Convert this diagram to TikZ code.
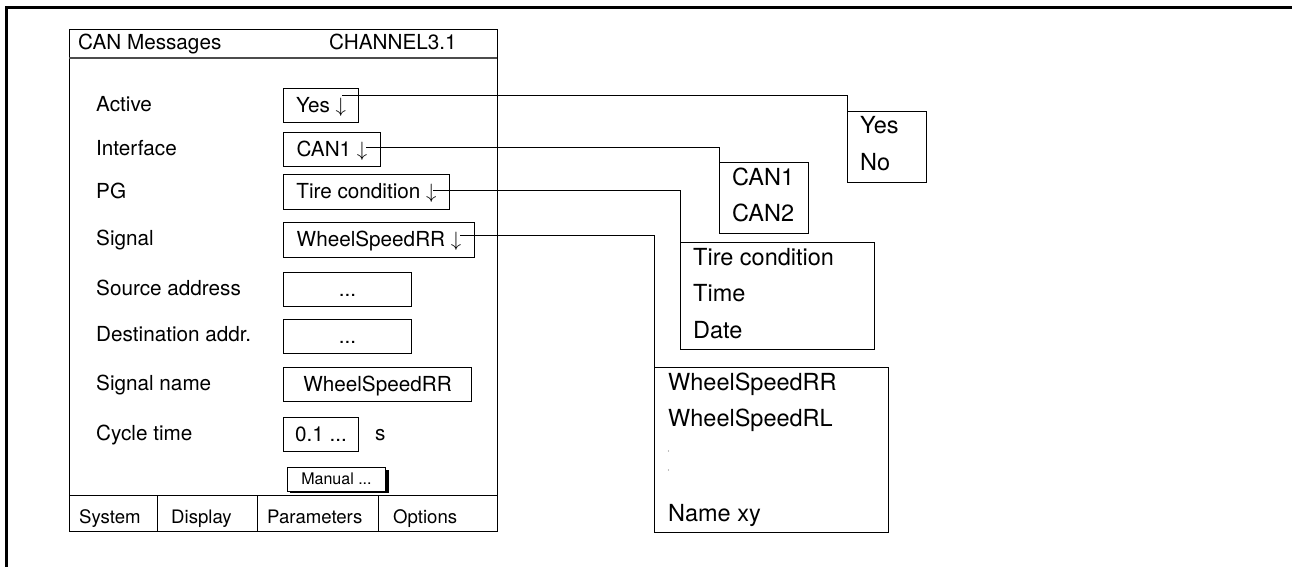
\documentclass[tikz,border=0pt]{standalone}
\usepackage{fontspec}
\setmainfont{TeX Gyre Heros}

\begin{document}
\begin{tikzpicture}[x=1pt,y=-1pt,
   every node/.style={font=\fontsize{20.7}{25}\selectfont},
   lbl/.style={anchor=base west,inner sep=0pt},
   item/.style={anchor=base west,inner sep=0pt,font=\fontsize{23.5}{28}\selectfont},
   tab/.style={anchor=base west,inner sep=0pt,font=\fontsize{18.6}{22}\selectfont},
   field/.style={draw,line width=1pt,inner sep=0pt,anchor=north west,
                 text height=17pt,text depth=3.5pt},
   listbox/.style={draw,line width=1pt,inner sep=0pt,anchor=north west},
   wire/.style={line width=0.8pt}]
   \useasboundingbox (0,0) rectangle (1292,567) ;
   % frame
   \draw[line width=3pt] (1292,8) -- (6,8) -- (6,567) ;
   % window
   \draw[line width=1pt] (69,30) rectangle (497,531) ;
   \draw[line width=1.4pt,gray!60!black] (69,58) -- (497,58) ;
   \node[lbl] (title) at (78,50) {CAN Messages} ;
   \node[lbl] (chan) at (329,50) {CHANNEL3.1} ;
   % parameter names
   \node[lbl] (lactive) at (96,111.7) {Active} ;
   \node[lbl] (linterface) at (96,155.3) {Interface} ;
   \node[lbl] (lpg) at (96,198.3) {PG} ;
   \node[lbl] (lsignal) at (96,245.7) {Signal} ;
   \node[lbl] (lsource) at (96,295) {Source address} ;
   \node[lbl] (ldest) at (96,341.7) {Destination addr.} ;
   \node[lbl] (lname) at (96,390) {Signal name} ;
   \node[lbl] (lcycle) at (96,440) {Cycle time} ;
   % input fields
   \node[field,minimum width=75pt,minimum height=34pt] (yes) at (283,88) {Yes $\downarrow$} ;
   \node[field,minimum width=97pt,minimum height=34pt] (can) at (283,132) {CAN1 $\downarrow$} ;
   \node[field,minimum width=166pt,minimum height=35pt] (pg) at (283,174) {Tire condition $\downarrow$} ;
   \node[field,minimum width=191pt,minimum height=35pt] (sig) at (283,222) {WheelSpeedRR $\downarrow$} ;
   \node[field,minimum width=128pt,minimum height=34pt] (src) at (283,272) {...} ;
   \node[field,minimum width=128pt,minimum height=34pt] (dst) at (283,319) {...} ;
   \node[field,minimum width=188pt,minimum height=34pt] (sname) at (283,367) {WheelSpeedRR} ;
   \node[field,minimum width=75pt,minimum height=34pt] (cycle) at (283,417) {0.1 ...} ;
   \node[lbl] (unit) at (375,440) {s} ;
   % button with shadow
   \fill (290,470) rectangle (389,493) ;
   \node[field,fill=white,minimum width=98pt,minimum height=24pt,text height=12pt,text depth=2pt,
         font=\fontsize{16}{19}\selectfont] (manual) at (287,467) {Manual ...\hspace{6pt}} ;
   % tabs
   \draw[line width=1pt] (69,495) -- (497,495) ;
   \draw[line width=1pt] (157,495) -- (157,531) (257,495) -- (257,531) (378,495) -- (378,531) ;
   \node[tab] (tsys) at (79,523) {System} ;
   \node[tab] (tdisp) at (171,523) {Display} ;
   \node[tab] (tpar) at (267,523) {Parameters} ;
   \node[tab] (topt) at (393,523) {Options} ;
   % drop-down lists
   \node[listbox,minimum width=79pt,minimum height=71pt] (yesno) at (847,111) {} ;
   \node[item] at (860,133.5) {Yes} ;
   \node[item] at (860,170) {No} ;
   \node[listbox,minimum width=89pt,minimum height=71pt] (canlist) at (719,162) {} ;
   \node[item] at (732,185) {CAN1} ;
   \node[item] at (732,221.5) {CAN2} ;
   \node[listbox,minimum width=194pt,minimum height=107pt] (pglist) at (680,242) {} ;
   \node[item] at (693,265) {Tire condition} ;
   \node[item] at (693,301.7) {Time} ;
   \node[item] at (693,338) {Date} ;
   \node[listbox,minimum width=234pt,minimum height=165pt] (siglist) at (654,367) {} ;
   \node[item] at (668,390) {WheelSpeedRR} ;
   \node[item] at (668,426.7) {WheelSpeedRL} ;
   \fill[gray] (668.5,451) circle (0.6) ;
   \fill[gray] (668.5,470) circle (0.6) ;
   \node[item] at (668,521.7) {Name xy} ;
   % connectors from the arrows
   \coordinate (yesarr) at ([xshift=-17pt,yshift=10pt]yes.east) ;
   \coordinate (canarr) at ([xshift=-15pt,yshift=2pt]can.east) ;
   \coordinate (pgarr) at ([xshift=-17pt,yshift=1.5pt]pg.east) ;
   \coordinate (sigarr) at ([xshift=-15pt,yshift=4.5pt]sig.east) ;
   \draw[wire] (yesarr) -| (yesno.north west) ;
   \draw[wire] (canarr) -| (canlist.north west) ;
   \draw[wire] (pgarr) -| (pglist.north west) ;
   \draw[wire] (sigarr) -| (siglist.north west) ;
\end{tikzpicture}
\end{document}
